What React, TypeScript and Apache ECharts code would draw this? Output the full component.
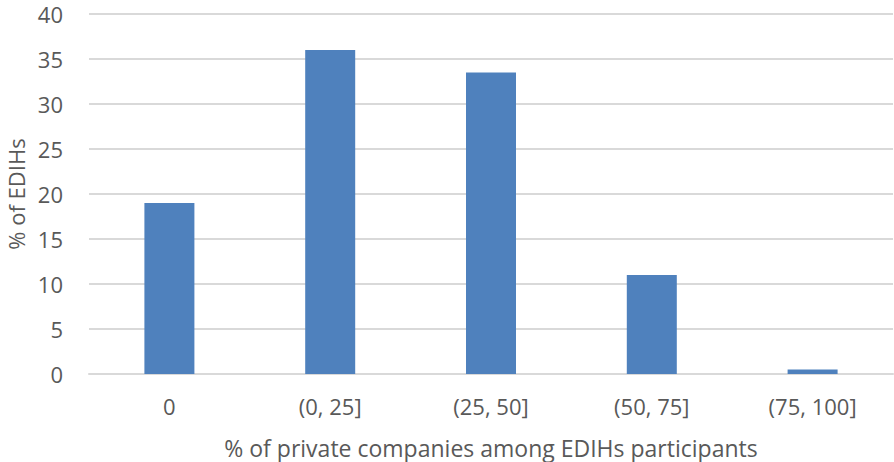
import React, { useEffect, useRef } from "react";
import * as echarts from "echarts";

const categories = ["0", "(0, 25]", "(25, 50]", "(50, 75]", "(75, 100]"];
const values = [19, 36, 33.5, 11, 0.5];
const yTicks = { min: 0, max: 40, interval: 5 };
const xName = "% of private companies among EDIHs participants";
const yName = "% of EDIHs";

export default function App() {
  const ref = useRef<HTMLDivElement>(null);
  useEffect(() => {
    const chart = echarts.init(ref.current!, null, { renderer: "svg" });
    const font = "Open Sans";
    chart.setOption({
      animation: false,
      grid: { left: 89, right: 1, top: 14, bottom: 88, containLabel: false, outerBoundsMode: "none" },
      xAxis: {
        type: "category",
        data: categories,
        name: xName,
        nameLocation: "middle",
        nameGap: 62,
        nameTextStyle: { fontFamily: font, fontSize: 23, color: "#595959" },
        axisLine: { show: true, lineStyle: { color: "#d9d9d9", width: 2 } },
        axisTick: { show: false },
        axisLabel: { fontFamily: font, fontSize: 22, color: "#595959", margin: 21 },
      },
      yAxis: {
        type: "value",
        min: yTicks.min,
        max: yTicks.max,
        interval: yTicks.interval,
        name: yName,
        nameLocation: "middle",
        nameGap: 62,
        nameTextStyle: { fontFamily: font, fontSize: 22, color: "#595959" },
        axisLine: { show: false },
        axisTick: { show: false },
        splitLine: { lineStyle: { color: "#d9d9d9", width: 2 } },
        axisLabel: { fontFamily: font, fontSize: 22, color: "#595959", margin: 26 },
      },
      series: [
        {
          type: "bar",
          data: values,
          barWidth: 50,
          itemStyle: { color: "#4f81bd" },
        },
      ],
    });
    return () => chart.dispose();
  }, []);
  return (
    <div
      ref={ref}
      style={{ position: "fixed", top: 0, left: 0, width: 894, height: 462, background: "#fff" }}
    />
  );
}
